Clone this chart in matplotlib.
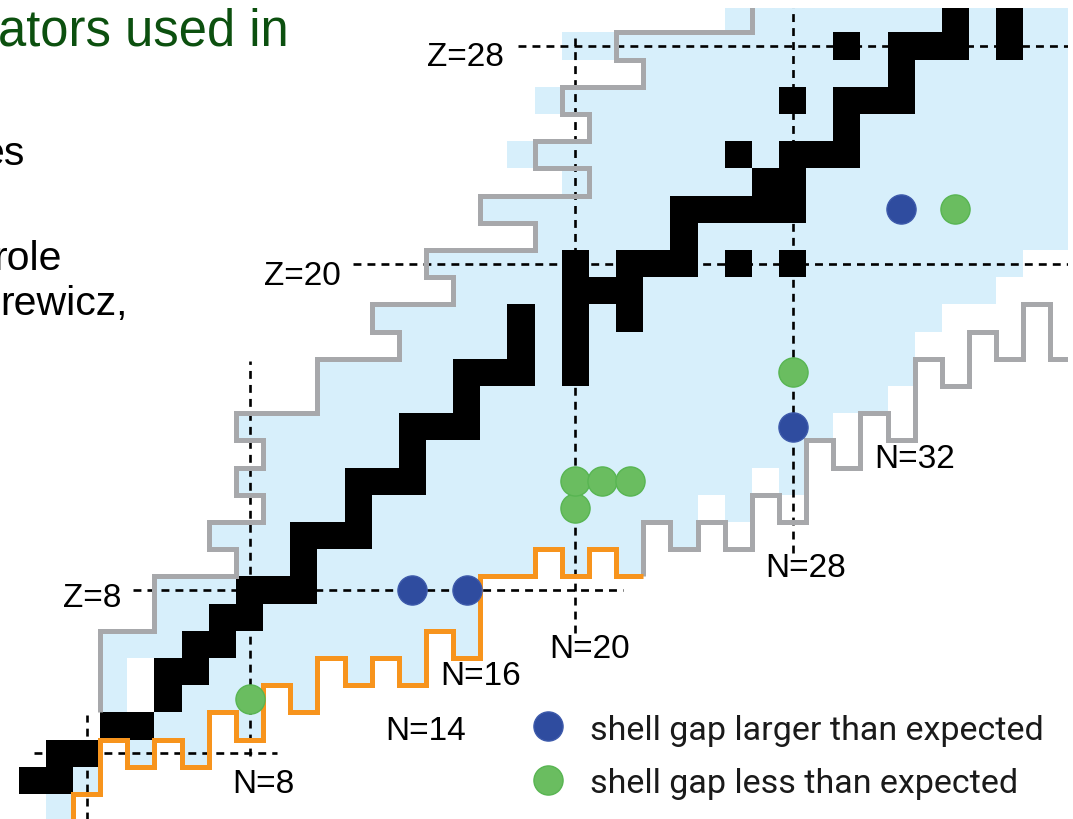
import numpy as np
import matplotlib
matplotlib.use("Agg")
import matplotlib.pyplot as plt
from matplotlib.colors import ListedColormap
from matplotlib.patches import Rectangle

# ---------------- data ----------------
# proton number of each row of the chart
Z_values = list(range(0, 30))
# lightest / heaviest known isotope (neutron number) for each Z
known_N_min = [1, 0, 1, 3, 3, 3, 3, 5, 5, 8, 7, 9, 8, 9, 8, 11, 11, 14, 13, 16,
               15, 19, 17, 20, 18, 21, 19, 23, 20, 26]
known_N_max = [1, 2, 6, 8, 10, 14, 16, 16, 16, 22, 24, 26, 28, 28, 29, 31, 32, 32, 33, 35,
               36, 38, 38, 38, 38, 38, 38, 38, 38, 38]
# unbound / unobserved nuclei lying inside those ranges
unbound_N = [3, 5, 7, 4, 9, 4, 11, 13, 15, 19, 21, 23, 25, 27]
unbound_Z = [2, 2, 3, 4, 4, 5, 5, 5, 6, 9, 9, 10, 11, 12]

# stable (and very long-lived) nuclei: Z -> list of N
stable = {
    1: [0, 1], 2: [1, 2], 3: [3, 4], 4: [5], 5: [5, 6], 6: [6, 7], 7: [7, 8],
    8: [8, 9, 10], 9: [10], 10: [10, 11, 12], 11: [12], 12: [12, 13, 14],
    13: [14], 14: [14, 15, 16], 15: [16], 16: [16, 17, 18, 20], 17: [18, 20],
    18: [18, 20, 22], 19: [20, 21, 22], 20: [20, 22, 23, 24, 26, 28], 21: [24],
    22: [24, 25, 26, 27, 28], 23: [27, 28], 24: [26, 28, 29, 30], 25: [30],
    26: [28, 30, 31, 32], 27: [32], 28: [30, 32, 33, 34, 36], 29: [34, 36],
}

# proton drip line (corner points, N and Z at cell edges)
p_drip_N = [2.5, 2.5, 4.5, 4.5, 7.5, 7.5, 6.5, 6.5, 8.5, 8.5, 7.5, 7.5, 8.5, 8.5, 7.5, 7.5,
            10.5, 10.5, 13.5, 13.5, 12.5, 12.5, 15.5, 15.5, 14.5, 14.5, 18.5, 18.5, 16.5, 16.5,
            20.5, 20.5, 18.5, 18.5, 20.5, 20.5, 19.5, 19.5, 22.5, 22.5, 21.5, 21.5, 26.5, 26.5]
p_drip_Z = [3.5, 6.5, 6.5, 8.5, 8.5, 9.5, 9.5, 10.5, 10.5, 11.5, 11.5, 12.5, 12.5, 13.5, 13.5, 14.5,
            14.5, 16.5, 16.5, 17.5, 17.5, 18.5, 18.5, 19.5, 19.5, 20.5, 20.5, 21.5, 21.5, 22.5,
            22.5, 23.5, 23.5, 24.5, 24.5, 25.5, 25.5, 26.5, 26.5, 27.5, 27.5, 28.5, 28.5, 30.0]

# measured neutron drip line (H .. F)
n_drip_N = [1.5, 1.5, 2.5, 2.5, 3.5, 3.5, 4.5, 4.5, 5.5, 5.5, 6.5, 6.5, 7.5, 7.5, 8.5, 8.5,
            9.5, 9.5, 10.5, 10.5, 11.5, 11.5, 12.5, 12.5, 13.5, 13.5, 14.5, 14.5, 15.5, 15.5,
            16.5, 16.5, 18.5, 18.5, 19.5, 19.5, 20.5, 20.5, 21.5, 21.5, 22.5]
n_drip_Z = [-1.0, 0.5, 0.5, 2.5, 2.5, 1.5, 1.5, 2.5, 2.5, 1.5, 1.5, 3.5, 3.5, 2.5, 2.5, 4.5,
            4.5, 3.5, 3.5, 5.5, 5.5, 4.5, 4.5, 5.5, 5.5, 4.5, 4.5, 6.5, 6.5, 5.5,
            5.5, 8.5, 8.5, 9.5, 9.5, 8.5, 8.5, 9.5, 9.5, 8.5, 8.5]

# predicted neutron drip line beyond fluorine
n_pred_N = [22.5, 22.5, 23.5, 23.5, 24.5, 24.5, 25.5, 25.5, 26.5, 26.5, 27.5, 27.5, 28.5, 28.5,
            29.5, 29.5, 30.5, 30.5, 31.5, 31.5, 32.5, 32.5, 33.5, 33.5, 34.5, 34.5, 35.5, 35.5,
            36.5, 36.5, 37.5, 37.5, 39.0]
n_pred_Z = [8.5, 10.5, 10.5, 9.5, 9.5, 10.5, 10.5, 9.5, 9.5, 11.5, 11.5, 10.5, 10.5, 13.5,
            13.5, 12.5, 12.5, 14.5, 14.5, 13.5, 13.5, 16.5, 16.5, 15.5, 15.5, 17.5, 17.5, 16.5,
            16.5, 18.5, 18.5, 16.5, 16.5]

# shell-gap observations (N, Z)
larger_gap_N = [14, 16, 28, 32]
larger_gap_Z = [8, 8, 14, 22]
smaller_gap_N = [8, 20, 20, 21, 22, 28, 34]
smaller_gap_Z = [4, 11, 12, 12, 12, 16, 22]

# magic-number guide lines: value, start, end (along the other axis)
magic_Z_lines = [(2, 0.05, 9.0), (8, 3.7, 21.75), (20, 11.8, 39.0), (28, 17.9, 39.0)]
magic_N_lines = [(2, -1.0, 3.4), (8, 1.9, 16.4), (20, 6.4, 28.3), (28, 9.35, 30.0)]

legend_labels = ["shell gap larger than expected", "shell gap less than expected"]

# ---------------- style ----------------
LIGHT_BLUE = "#d7effb"
GRAY = "#a7a8ab"
ORANGE = "#f7941d"
DOT_BLUE = "#2f4c9f"
DOT_GREEN = "#6abd60"

fig = plt.figure(figsize=(10.73, 8.19), dpi=100)
ax = fig.add_axes([0, 0, 1, 1])
ax.set_xlim(-1.19, 38.33)
ax.set_ylim(-0.42, 29.69)
ax.axis("off")

clip = Rectangle((-1.19, -0.42), 38.147 + 1.19, 29.397 + 0.42,
                 transform=ax.transData, fill=False)

# nuclide cells
N_all = np.arange(0, 39)
grid = np.zeros((len(Z_values), len(N_all)))
for z, lo, hi in zip(Z_values, known_N_min, known_N_max):
    grid[z, lo:hi + 1] = 1
for n, z in zip(unbound_N, unbound_Z):
    grid[z, n] = 0
for z, ns in stable.items():
    grid[z, ns] = 2
mesh = ax.pcolormesh(np.arange(-0.5, len(N_all)), np.arange(-0.5, len(Z_values)), grid,
                     cmap=ListedColormap(["white", LIGHT_BLUE, "black"]), vmin=0, vmax=2,
                     shading="flat", antialiased=False, zorder=1)
mesh.set_clip_path(clip)

# magic number guide lines
dash = dict(color="black", lw=1.9, linestyle=(0, (3.0, 2.3)), zorder=2)
for z, n0, n1 in magic_Z_lines:
    ln, = ax.plot([n0, n1], [z, z], **dash)
    ln.set_clip_path(clip)
for n, z0, z1 in magic_N_lines:
    ln, = ax.plot([n, n], [z0, z1], **dash)
    ln.set_clip_path(clip)

# drip lines
for xs, ys, col in [(p_drip_N, p_drip_Z, GRAY), (n_pred_N, n_pred_Z, GRAY),
                    (n_drip_N, n_drip_Z, ORANGE)]:
    ln, = ax.plot(xs, ys, color=col, lw=3.6, solid_joinstyle="miter",
                  solid_capstyle="butt", zorder=3)
    ln.set_clip_path(clip)

# shell-gap markers
ax.scatter(larger_gap_N, larger_gap_Z, s=440, color=DOT_BLUE, edgecolor="#3d5aab",
           linewidth=1.0, zorder=5)
ax.scatter(smaller_gap_N, smaller_gap_Z, s=440, color=DOT_GREEN, edgecolor="#58b552",
           linewidth=1.0, zorder=5)

# magic number labels
lab = dict(fontsize=24, family="Liberation Sans", color="black", zorder=6)
ax.text(15.94, 27.26, "Z=28", ha="center", va="baseline", **lab)
ax.text(9.93, 19.21, "Z=20", ha="center", va="baseline", **lab)
ax.text(2.2, 7.375, "Z=8", ha="center", va="baseline", **lab)
ax.text(8.52, 0.54, "N=8", ha="center", va="baseline", **lab)
ax.text(14.48, 2.49, "N=14", ha="center", va="baseline", **lab)
ax.text(16.51, 4.51, "N=16", ha="center", va="baseline", **lab)
ax.text(20.52, 5.5, "N=20", ha="center", va="baseline", **lab)
ax.text(28.48, 8.48, "N=28", ha="center", va="baseline", **lab)
ax.text(32.48, 12.47, "N=32", ha="center", va="baseline", **lab)

# legend
ax.scatter([19], [3], s=440, color=DOT_BLUE, edgecolor="#3d5aab", linewidth=1.0, zorder=5)
ax.scatter([19], [1], s=440, color=DOT_GREEN, edgecolor="#58b552", linewidth=1.0, zorder=5)
leg = dict(fontsize=24.5, family="Roboto", color="#1a1a1a", zorder=6)
ax.text(20.54, 2.49, legend_labels[0], ha="left", va="baseline", **leg)
ax.text(20.54, 0.54, legend_labels[1], ha="left", va="baseline", **leg)

# slide text around the chart
fig.text(0.2693, 0.945, "ators used in", ha="right", va="baseline", fontsize=36.5,
         family="Liberation Sans", color="#0c500f")
body = dict(ha="right", va="baseline", fontsize=29.5, family="Liberation Sans", color="black")
fig.text(0.0233, 0.7985, "es", **body)
fig.text(0.0578, 0.6703, "role", **body)
fig.text(0.1193, 0.6154, "rewicz,", **body)

fig.savefig("out.png", dpi=100, facecolor="white")
